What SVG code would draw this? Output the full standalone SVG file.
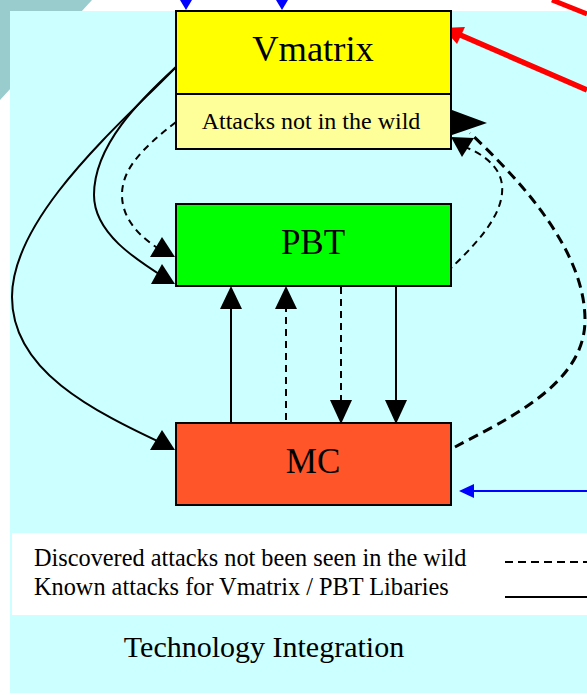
<svg xmlns="http://www.w3.org/2000/svg" width="587" height="695" viewBox="0 0 587 695">
<style>
.box{stroke:#000;stroke-width:2}
.lbl{font-family:"Liberation Serif","Times New Roman",serif;fill:#000}
.ln{fill:none;stroke:#000;stroke-width:2}
.dash{fill:none;stroke:#000;stroke-width:2;stroke-dasharray:7 5}
.dashb{fill:none;stroke:#000;stroke-width:3;stroke-dasharray:10 6}
.head{fill:#000}
</style>
<rect x="0" y="0" width="587" height="695" fill="#fff"/>
<polygon points="0,0 92,0 0,100" fill="#99CCCC"/>
<rect x="10" y="11" width="577" height="682" fill="#CCFFFF"/>
<rect x="12" y="533" width="575" height="82" fill="#fff"/>

<g id="connectors">
  <polygon points="180,0 192,0 186,10" fill="#0000FF"/>
  <polygon points="276,0 288,0 282,10" fill="#0000FF"/>
  <line x1="587" y1="14" x2="552" y2="0" stroke="#FF0000" stroke-width="5"/>
  <line x1="587" y1="90" x2="458" y2="34" stroke="#FF0000" stroke-width="5.5"/>
  <polygon points="443,28 465,27 457,44" fill="#FF0000"/>
  <line x1="587" y1="491" x2="470" y2="491" stroke="#0000FF" stroke-width="2"/>
  <polygon points="459,491 474,484 474,498" fill="#0000FF"/>

  <path class="ln" d="M176,67 C125,120 12,215 12,297 C12,370 90,410 170,447"/>
  <polygon class="head" points="175,450 162,430 150,450"/>
  <path class="ln" d="M176,67 C140,100 94,145 94,195 C94,235 140,262 170,281"/>
  <polygon class="head" points="175,284 162,264 151,284"/>
  <path class="dash" d="M176,122 C140,150 122,170 122,195 C122,225 150,245 170,255"/>
  <polygon class="head" points="175,257 162,237 150,257"/>

  <path class="dash" d="M447,272 C475,245 505,215 502,185 C500,165 480,152 462,146"/>
  <polygon class="head" points="451,137 462,157 474,138"/>
  <path class="dashb" d="M455,447 C505,420 585,385 585,320 C585,250 520,180 470,133"/>
  <polygon class="head" points="452,110 487,123 452,135"/>

  <line class="ln" x1="231" y1="305" x2="231" y2="423"/>
  <polygon class="head" points="231,286 220,309 242,309"/>
  <line class="dash" x1="286" y1="305" x2="286" y2="423"/>
  <polygon class="head" points="286,286 275,309 297,309"/>
  <line class="dash" x1="341" y1="287" x2="341" y2="404"/>
  <polygon class="head" points="341,424 330,400 352,400"/>
  <line class="ln" x1="396" y1="287" x2="396" y2="404"/>
  <polygon class="head" points="396,424 385,400 407,400"/>
</g>

<g id="vmatrix">
  <rect class="box" x="176" y="11" width="275" height="83" fill="#FFFF00"/>
  <text class="lbl" x="313" y="61" font-size="36.5" text-anchor="middle">Vmatrix</text>
</g>
<g id="attacks-not-in-wild">
  <rect class="box" x="176" y="94" width="275" height="55" fill="#FFFF99"/>
  <text class="lbl" x="311" y="129" font-size="24" text-anchor="middle">Attacks not in the wild</text>
</g>
<g id="pbt">
  <rect class="box" x="176" y="204" width="275" height="82" fill="#00FF00"/>
  <text class="lbl" x="313" y="254" font-size="35" text-anchor="middle">PBT</text>
</g>
<g id="mc">
  <rect class="box" x="176" y="423" width="275" height="82" fill="#FF5529"/>
  <text class="lbl" x="313" y="473" font-size="35" text-anchor="middle">MC</text>
</g>

<g id="legend">
  <text class="lbl" x="34" y="566" font-size="24.3">Discovered attacks not been seen in the wild</text>
  <text class="lbl" x="34" y="595" font-size="24.3">Known attacks for Vmatrix / PBT Libaries</text>
  <line x1="505" y1="562" x2="587" y2="562" stroke="#000" stroke-width="2" stroke-dasharray="8 5"/>
  <line x1="505" y1="597" x2="587" y2="597" stroke="#000" stroke-width="2"/>
</g>
<g id="title">
  <text class="lbl" x="264" y="657" font-size="30" text-anchor="middle">Technology Integration</text>
</g>
</svg>
